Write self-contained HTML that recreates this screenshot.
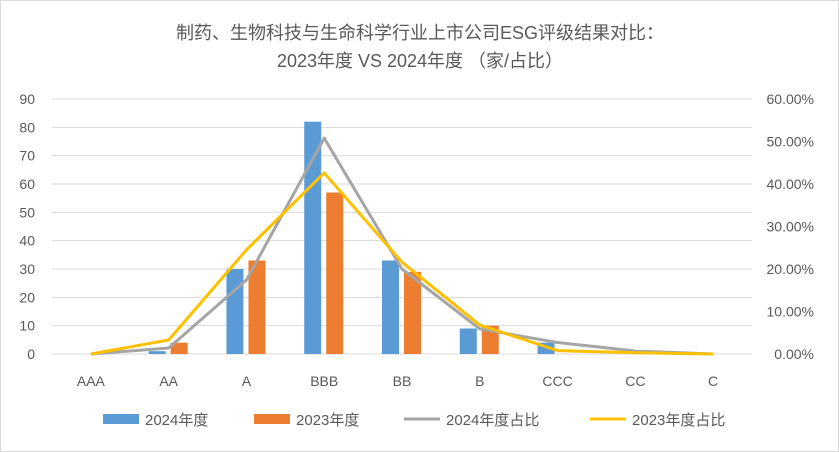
<!DOCTYPE html>
<html><head><meta charset="utf-8"><style>
body{margin:0;background:#fff}
svg{display:block;font-family:"Liberation Sans","Noto Sans CJK SC",sans-serif}
</style></head><body>
<svg width="839" height="452">
<rect x="0.5" y="0.5" width="838" height="451" fill="#fff" stroke="#d9d9d9"/>
<text x="420" y="39" text-anchor="middle" font-size="18" fill="#595959">制药、生物科技与生命科学行业上市公司ESG评级结果对比：</text>
<text x="420" y="67" text-anchor="middle" font-size="18" fill="#595959">2023年度  VS  2024年度 （家/占比）</text>
<g id="grid"></g><g id="bars"></g><g id="lines"></g><g id="axes"></g>
<g>
<rect x="103" y="414" width="36" height="10" fill="#5b9bd5"/>
<text x="145" y="425" font-size="15" fill="#595959">2024年度</text>
<rect x="254" y="414" width="36" height="10" fill="#ed7d31"/>
<text x="296" y="425" font-size="15" fill="#595959">2023年度</text>
<line x1="404" y1="419" x2="440" y2="419" stroke="#a5a5a5" stroke-width="3"/>
<text x="446" y="425" font-size="15" fill="#595959">2024年度占比</text>
<line x1="590" y1="419" x2="626" y2="419" stroke="#ffc000" stroke-width="3"/>
<text x="632" y="425" font-size="15" fill="#595959">2023年度占比</text>
</g>
</svg>
<script>
const categories=["AAA","AA","A","BBB","BB","B","CCC","CC","C"];
const counts2024=[0,1,30,82,33,9,4,0,0];
const counts2023=[0,4,33,57,29,10,0,0,0];
const pct2024=[0,1.4,17.4,50.8,20,5.9,2.7,0.7,0];
const pct2023=[0,3.3,24.5,42.6,21.6,6.8,0.8,0.3,0];
const leftTicks=[0,10,20,30,40,50,60,70,80,90];
const rightTicks=["0.00%","10.00%","20.00%","30.00%","40.00%","50.00%","60.00%"];
const NS="http://www.w3.org/2000/svg";
const X0=52,X1=752,Y0=354,Y1=99;
const step=(X1-X0)/categories.length;
const xc=i=>X0+step*(i+0.5);
const yL=v=>Y0-(v/90)*(Y0-Y1);
const yR=v=>Y0-(v/60)*(Y0-Y1);
function mk(tag,attrs,parent){const e=document.createElementNS(NS,tag);for(const k in attrs)e.setAttribute(k,attrs[k]);document.getElementById(parent).appendChild(e);return e;}
leftTicks.forEach((t,i)=>{
 const l=mk('line',{x1:X0,x2:X1,y1:yL(t),y2:yL(t),stroke:'#d9d9d9','stroke-width':1},'grid');
 
 
 const tx=mk('text',{x:35,y:yL(t)+5,'text-anchor':'end','font-size':14,fill:'#595959'},'axes');
 tx.textContent=t;
 
 
});
rightTicks.forEach((t,i)=>{
 const tx=mk('text',{x:814,y:yR(i*10)+5,'text-anchor':'end','font-size':14,fill:'#595959'},'axes');
 tx.textContent=t;
 
 
});
categories.forEach((c,i)=>{
 const tx=mk('text',{x:xc(i),y:386,'text-anchor':'middle','font-size':14,fill:'#595959'},'axes');
 tx.textContent=c;
 
 
 const b1=mk('rect',{x:xc(i)-20,y:yL(counts2024[i]),width:17,height:Y0-yL(counts2024[i]),fill:'#5b9bd5'},'bars');
 
 
 const b2=mk('rect',{x:xc(i)+2,y:yL(counts2023[i]),width:17,height:Y0-yL(counts2023[i]),fill:'#ed7d31'},'bars');
 
 
});
const p1=mk('polyline',{points:pct2024.map((v,i)=>xc(i)+','+yR(v)).join(' '),fill:'none',stroke:'#a5a5a5','stroke-width':3,'stroke-linejoin':'round'},'lines');


const p2=mk('polyline',{points:pct2023.map((v,i)=>xc(i)+','+yR(v)).join(' '),fill:'none',stroke:'#ffc000','stroke-width':3,'stroke-linejoin':'round'},'lines');


</script>
</body></html>
